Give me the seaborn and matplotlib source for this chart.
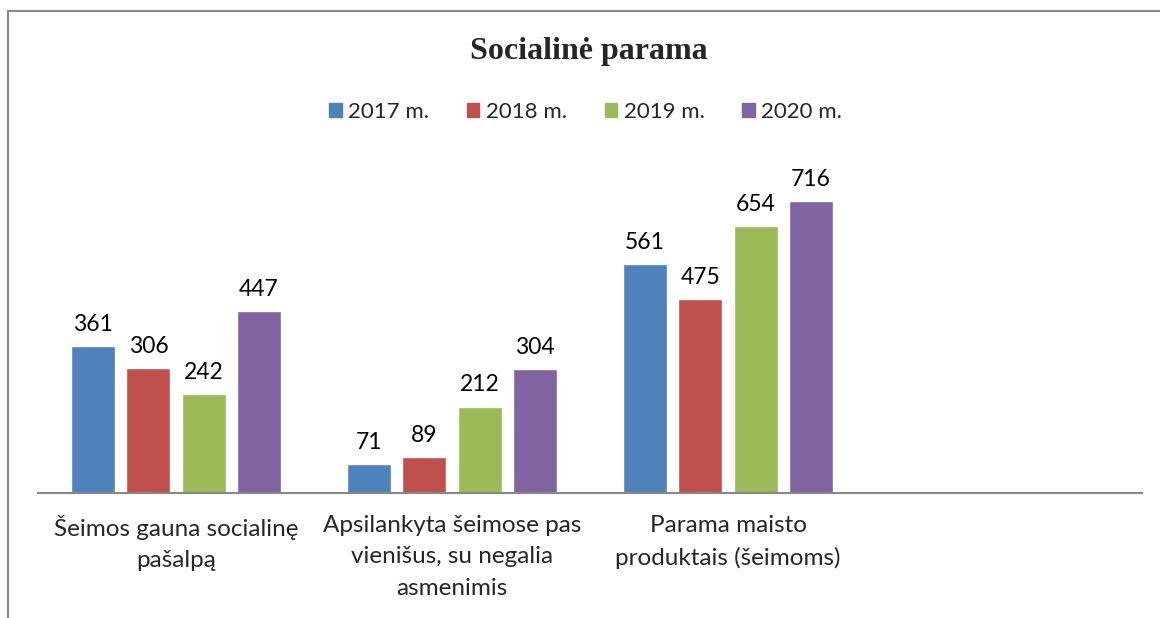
import pandas as pd
import matplotlib
matplotlib.use("Agg")
import matplotlib.pyplot as plt
import seaborn as sns
from matplotlib.lines import Line2D

# data
categories = ["Šeimos gauna socialinę\npašalpą",
              "Apsilankyta šeimose pas\nvienišus, su negalia\nasmenimis",
              "Parama maisto\nproduktais (šeimoms)"]
years = ["2017 m.", "2018 m.", "2019 m.", "2020 m."]
v2017 = [361, 71, 561]
v2018 = [306, 89, 475]
v2019 = [242, 212, 654]
v2020 = [447, 304, 716]
colors = ["#4F81BD", "#C0504D", "#9BBB59", "#8064A2"]

rows = []
for year, vals in zip(years, [v2017, v2018, v2019, v2020]):
    for cat, v in zip(categories, vals):
        rows.append({"cat": cat, "year": year, "value": v})
df = pd.DataFrame(rows)

sns.set_style("white")
plt.rcParams["font.family"] = ["Lato", "DejaVu Sans"]

fig = plt.figure(figsize=(11.6, 6.18), dpi=100)
ax = fig.add_axes([38 / 1160, 125 / 618, 1104 / 1160, 326 / 618])

sns.barplot(data=df, x="cat", y="value", hue="year", order=categories,
            hue_order=years, palette=colors, width=0.8, gap=0.2,
            saturation=1, ax=ax, legend=True)

for cont in ax.containers:
    ax.bar_label(cont, padding=8, fontsize=16.5, color="#000000")

ax.set_xlim(-0.5, 3.5)
ax.set_ylim(0, 800)
ax.set_xlabel("")
ax.set_ylabel("")
ax.set_yticks([])
ax.tick_params(axis="x", length=0, pad=16, labelsize=17.5)
for lab in ax.get_xticklabels():
    lab.set_linespacing(1.6)
for s in ["top", "right", "left"]:
    ax.spines[s].set_visible(False)
ax.spines["bottom"].set_color("#888888")
ax.spines["bottom"].set_linewidth(1.5)

handles = [plt.Rectangle((0, 0), 1, 1, color=c) for c in colors]
ax.legend(handles, years, loc="center", bbox_to_anchor=(0.505, 1 - 112 / 618),
          bbox_transform=fig.transFigure, ncol=4, frameon=False,
          fontsize=16, handlelength=0.55, handleheight=0.55,
          handletextpad=0.3, columnspacing=1.7)

fig.text(0.508, 1 - 52 / 618, "Socialinė parama", ha="center", va="center",
         fontsize=23, fontweight="bold", family="Liberation Serif")

# outer frame (left and top only, chart is cropped)
fig.add_artist(Line2D([8 / 1160, 8 / 1160], [0, 1 - 11 / 618],
                      transform=fig.transFigure, color="#888888", lw=1.5))
fig.add_artist(Line2D([8 / 1160, 1], [1 - 11 / 618, 1 - 11 / 618],
                      transform=fig.transFigure, color="#888888", lw=1.5))

fig.savefig("out.png", dpi=100)
